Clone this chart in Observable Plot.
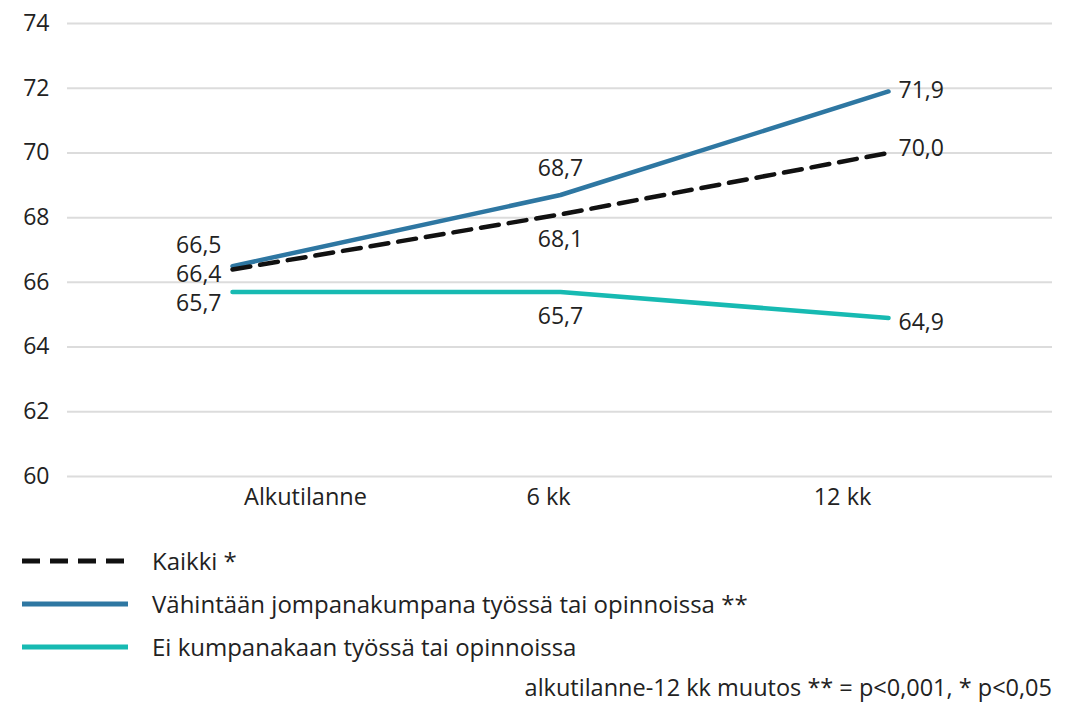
<!DOCTYPE html>
<html>
<head>
<meta charset="utf-8">
<script src="https://cdn.jsdelivr.net/npm/d3@7"></script>
<script src="https://cdn.jsdelivr.net/npm/@observablehq/plot@0.6"></script>
<style>
  body { margin: 0; background: #fff; font-family: "Open Sans", "Noto Sans", sans-serif; color: #222; }
  #wrap { width: 1071px; height: 703px; position: relative; overflow: hidden; }
  .legend { position: absolute; left: 22px; top: 539px; }
  .row { display: flex; align-items: center; height: 43px; font-size: 24px; line-height: 26px; }
  .row svg { margin-right: 24px; }
  .caption { position: absolute; right: 19px; top: 674px; font-size: 23.5px; line-height: 26px; }
</style>
</head>
<body>
<div id="wrap">
  <div id="chart"></div>
  <div class="legend" id="legend"></div>
  <div class="caption">alkutilanne-12 kk muutos ** = p&lt;0,001, * p&lt;0,05</div>
</div>
<script>
const categories = ["Alkutilanne", "6 kk", "12 kk"];
const seriesNames = [
  "Kaikki *",
  "Vähintään jompanakumpana työssä tai opinnoissa **",
  "Ei kumpanakaan työssä tai opinnoissa"
];
const kaikki = [66.4, 68.1, 70.0];
const vahintaan = [66.5, 68.7, 71.9];
const eiKumpanakaan = [65.7, 65.7, 64.9];
const yTicks = [60, 62, 64, 66, 68, 70, 72, 74];

const colors = ["#111111", "#2e77a2", "#17bab2"];
const dashes = ["18,10", null, null];
const seriesValues = [kaikki, vahintaan, eiKumpanakaan];

const data = [];
seriesValues.forEach((vals, s) => vals.forEach((v, i) => data.push({series: seriesNames[s], s, cat: categories[i], i, value: v})));

const fmt = v => v.toFixed(1).replace(".", ",");
const pick = (s, i) => data.filter(d => d.s === s && d.i === i);

function lab(s, i, opts) {
  return Plot.text(pick(s, i), {x: "cat", y: "value", text: d => fmt(d.value), fontSize: 23, fill: "#222", ...opts});
}

const xAxisOpts = {tickSize: 0, tickPadding: 12, fontSize: 23.5, label: null, fill: "#222"};

const chart = Plot.plot({
  width: 1071,
  height: 520,
  marginLeft: 67,
  marginRight: 19,
  marginTop: 23,
  marginBottom: 44,
  style: {fontFamily: "'Open Sans', 'Noto Sans', sans-serif", color: "#222", background: "#fff"},
  x: {type: "point", domain: categories, padding: 0.5, axis: null},
  y: {domain: [60, 74], axis: null},
  marks: [
    Plot.ruleY(yTicks, {stroke: "#dcdcdc", strokeWidth: 2}),
    Plot.axisY({ticks: yTicks, tickSize: 0, tickPadding: 18, fontSize: 23, label: null, fill: "#222"}),
    Plot.axisX(["Alkutilanne"], {...xAxisOpts, dx: 73}),
    Plot.axisX(["6 kk"], {...xAxisOpts, dx: -12}),
    Plot.axisX(["12 kk"], {...xAxisOpts, dx: -46}),
    Plot.line(data.filter(d => d.s === 2), {x: "cat", y: "value", stroke: colors[2], strokeWidth: 4.5, curve: "linear"}),
    Plot.line(data.filter(d => d.s === 1), {x: "cat", y: "value", stroke: colors[1], strokeWidth: 4.5, curve: "linear"}),
    Plot.line(data.filter(d => d.s === 0), {x: "cat", y: "value", stroke: colors[0], strokeWidth: 4.5, strokeDasharray: dashes[0], curve: "linear"}),
    // start labels
    lab(1, 0, {textAnchor: "end", dx: -11, dy: -21}),
    lab(0, 0, {textAnchor: "end", dx: -11, dy: 5}),
    lab(2, 0, {textAnchor: "end", dx: -11, dy: 12}),
    // 6 kk labels
    lab(1, 1, {dy: -26}),
    lab(0, 1, {dy: 25}),
    lab(2, 1, {dy: 25}),
    // 12 kk labels
    lab(1, 2, {textAnchor: "start", dx: 10, dy: -1}),
    lab(0, 2, {textAnchor: "start", dx: 10, dy: -4}),
    lab(2, 2, {textAnchor: "start", dx: 10, dy: 5})
  ]
});
document.getElementById("chart").appendChild(chart);

const legend = document.getElementById("legend");
seriesNames.forEach((name, s) => {
  const row = document.createElement("div");
  row.className = "row";
  const dash = dashes[s] ? `stroke-dasharray="${dashes[s]}"` : "";
  row.innerHTML = `<svg width="106" height="10"><line x1="0" y1="5" x2="106" y2="5" stroke="${colors[s]}" stroke-width="5" ${dash}/></svg><span>${name}</span>`;
  legend.appendChild(row);
});
</script>
</body>
</html>
